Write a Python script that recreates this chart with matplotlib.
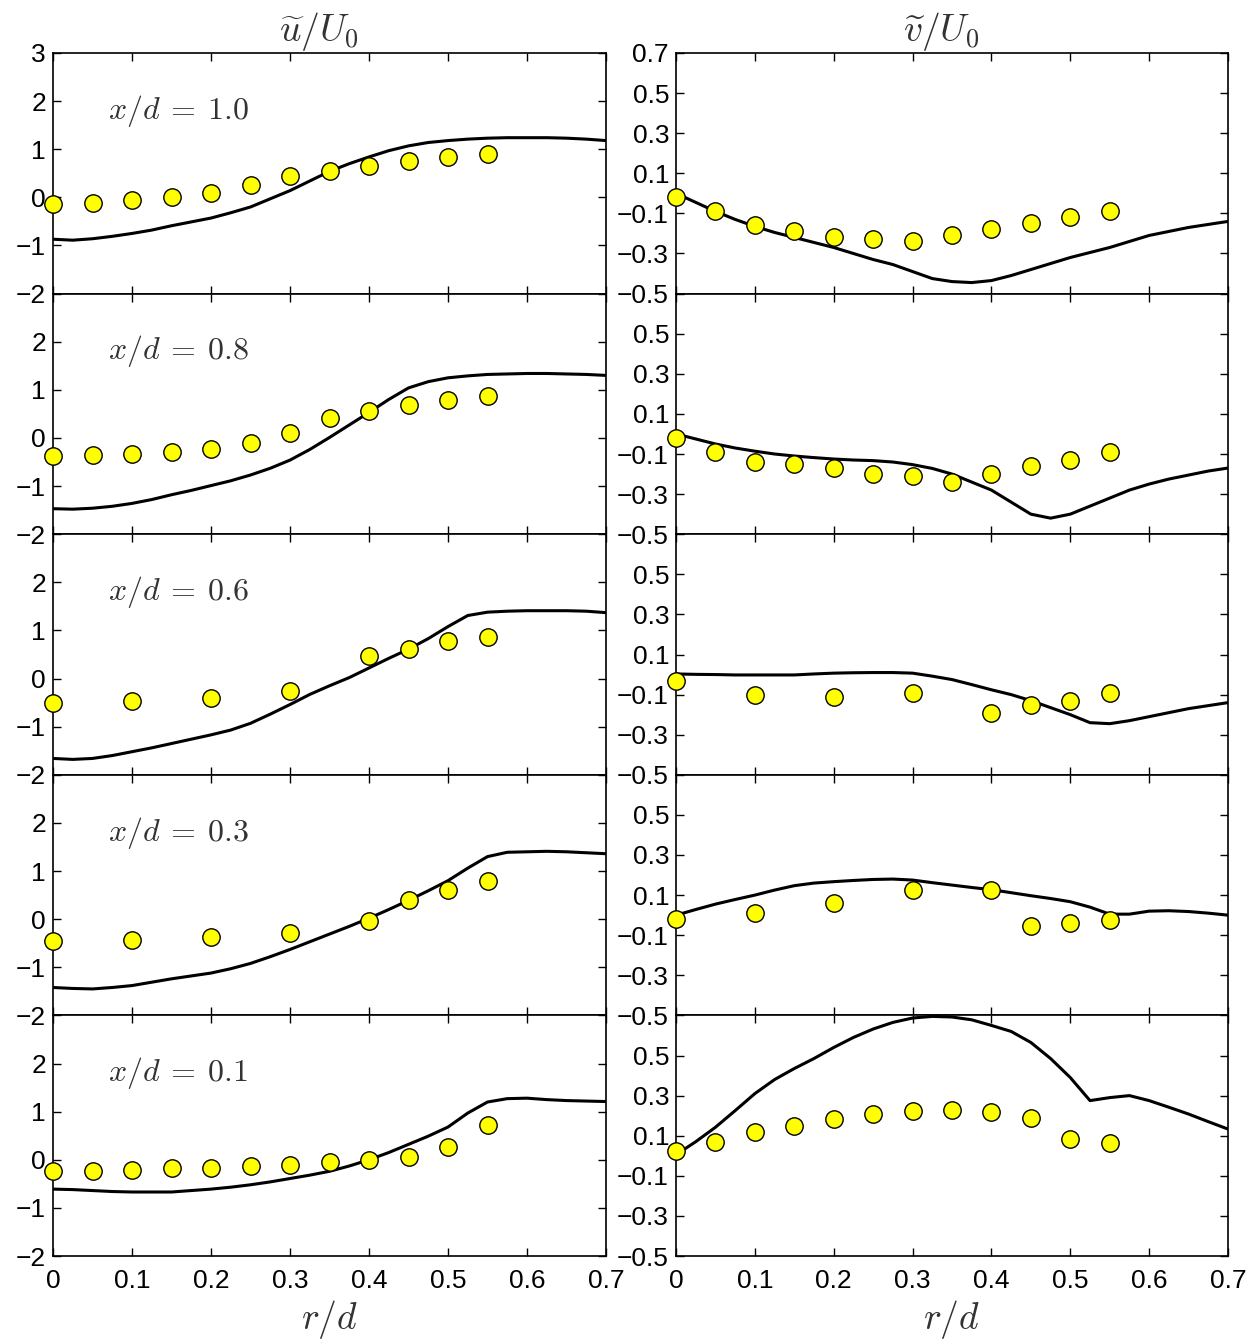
import numpy as np
import matplotlib.pyplot as plt

plt.rcParams['font.family'] = ['Liberation Sans', 'DejaVu Sans']
plt.rcParams['mathtext.fontset'] = 'cm'

# stations, top to bottom
stations = ['1.0', '0.8', '0.6', '0.3', '0.1']

# simulation profiles on a common radial grid
r_sim = np.arange(29) * 0.025

u_sim = [
    [-0.87, -0.89, -0.86, -0.81, -0.75, -0.68, -0.59, -0.51, -0.43, -0.32, -0.20, -0.03, 0.14, 0.34, 0.54,
     0.70, 0.84, 0.97, 1.07, 1.14, 1.18, 1.21, 1.23, 1.24, 1.24, 1.24, 1.23, 1.21, 1.18],
    [-1.47, -1.48, -1.46, -1.42, -1.36, -1.28, -1.18, -1.09, -0.99, -0.89, -0.77, -0.63, -0.46, -0.24, 0.01,
     0.27, 0.53, 0.80, 1.04, 1.17, 1.25, 1.29, 1.32, 1.33, 1.34, 1.34, 1.33, 1.32, 1.30],
    [-1.66, -1.68, -1.66, -1.60, -1.52, -1.44, -1.35, -1.26, -1.17, -1.07, -0.93, -0.74, -0.54, -0.33, -0.15,
     0.02, 0.22, 0.42, 0.61, 0.83, 1.08, 1.31, 1.38, 1.40, 1.41, 1.41, 1.41, 1.40, 1.37],
    [-1.42, -1.44, -1.45, -1.42, -1.38, -1.31, -1.24, -1.18, -1.12, -1.03, -0.92, -0.78, -0.63, -0.47, -0.31,
     -0.15, 0.02, 0.20, 0.39, 0.59, 0.80, 1.06, 1.30, 1.39, 1.40, 1.41, 1.40, 1.38, 1.36],
    [-0.61, -0.62, -0.64, -0.66, -0.67, -0.67, -0.67, -0.64, -0.61, -0.57, -0.52, -0.46, -0.39, -0.32, -0.24,
     -0.13, 0.00, 0.15, 0.32, 0.49, 0.68, 0.97, 1.20, 1.27, 1.28, 1.25, 1.23, 1.22, 1.21],
]

v_sim = [
    [0.0, -0.045, -0.09, -0.13, -0.165, -0.195, -0.22, -0.245, -0.27, -0.30, -0.33, -0.355, -0.39, -0.425, -0.44,
     -0.445, -0.435, -0.41, -0.38, -0.35, -0.32, -0.295, -0.27, -0.24, -0.21, -0.19, -0.17, -0.155, -0.14],
    [0.0, -0.025, -0.05, -0.07, -0.086, -0.10, -0.11, -0.118, -0.125, -0.13, -0.133, -0.14, -0.153, -0.172, -0.20,
     -0.24, -0.28, -0.34, -0.40, -0.42, -0.40, -0.36, -0.32, -0.28, -0.25, -0.225, -0.205, -0.185, -0.17],
    [0.003, 0.001, 0.0, -0.002, -0.002, -0.002, -0.002, 0.003, 0.007, 0.009, 0.01, 0.01, 0.007, -0.008, -0.025,
     -0.05, -0.076, -0.10, -0.13, -0.165, -0.20, -0.24, -0.245, -0.23, -0.21, -0.19, -0.17, -0.155, -0.14],
    [0.0, 0.028, 0.055, 0.078, 0.10, 0.125, 0.147, 0.16, 0.167, 0.173, 0.178, 0.18, 0.175, 0.162, 0.15,
     0.138, 0.127, 0.112, 0.097, 0.083, 0.067, 0.04, 0.005, 0.005, 0.02, 0.022, 0.018, 0.01, 0.0],
    [0.005, 0.07, 0.142, 0.225, 0.31, 0.38, 0.435, 0.485, 0.54, 0.59, 0.632, 0.665, 0.687, 0.695, 0.692,
     0.678, 0.65, 0.62, 0.565, 0.485, 0.39, 0.275, 0.29, 0.30, 0.275, 0.242, 0.208, 0.17, 0.133],
]

# measurements
r_full = [0, 0.05, 0.1, 0.15, 0.2, 0.25, 0.3, 0.35, 0.4, 0.45, 0.5, 0.55]
r_part = [0, 0.1, 0.2, 0.3, 0.4, 0.45, 0.5, 0.55]
r_exp = [r_full, r_full, r_part, r_part, r_full]

u_exp = [
    [-0.13, -0.12, -0.06, 0.0, 0.10, 0.26, 0.44, 0.55, 0.66, 0.76, 0.83, 0.90],
    [-0.38, -0.36, -0.33, -0.30, -0.23, -0.10, 0.10, 0.42, 0.57, 0.69, 0.79, 0.88],
    [-0.51, -0.47, -0.40, -0.26, 0.46, 0.62, 0.78, 0.87],
    [-0.46, -0.44, -0.38, -0.28, -0.03, 0.39, 0.60, 0.80],
    [-0.24, -0.24, -0.22, -0.18, -0.17, -0.12, -0.10, -0.05, 0.0, 0.06, 0.26, 0.72],
]

v_exp = [
    [-0.02, -0.09, -0.16, -0.19, -0.22, -0.23, -0.24, -0.21, -0.18, -0.15, -0.12, -0.09],
    [-0.02, -0.09, -0.14, -0.15, -0.17, -0.20, -0.21, -0.24, -0.20, -0.16, -0.13, -0.09],
    [-0.03, -0.10, -0.11, -0.09, -0.19, -0.15, -0.13, -0.09],
    [-0.02, 0.012, 0.062, 0.125, 0.125, -0.055, -0.04, -0.023],
    [0.022, 0.07, 0.118, 0.15, 0.183, 0.206, 0.225, 0.226, 0.216, 0.19, 0.082, 0.065],
]

u_ticks = [-2, -1, 0, 1, 2, 3]
v_ticks = [-0.5, -0.3, -0.1, 0.1, 0.3, 0.5, 0.7]
r_ticks = [0, 0.1, 0.2, 0.3, 0.4, 0.5, 0.6, 0.7]

fig = plt.figure(figsize=(12.6, 13.42), dpi=100)

W, H = 1260.0, 1342.0
top, bottom = 53.0, 1256.0
row_h = (bottom - top) / 5
cols = [(53.0, 606.0), (676.0, 1228.0)]
mathcol = '#333333'


def fmt_int(t):
    return ('%d' % t).replace('-', '\u2212')


def fmt_dec(t):
    return ('%.1f' % t).replace('-', '\u2212')


def style_axes(ax, ticks, ylim, fmt, first, last):
    ax.set_xlim(0, 0.7)
    ax.set_ylim(*ylim)
    ax.set_xticks(r_ticks)
    ax.set_yticks(ticks)
    labels = [fmt(t) for t in ticks]
    if not first:
        labels[-1] = ''
    ax.set_yticklabels(labels)
    if last:
        ax.set_xticklabels(['0'] + ['%.1f' % t for t in r_ticks[1:]])
    else:
        ax.set_xticklabels([])
    ax.tick_params(direction='in', top=True, right=True, length=6, width=1,
                   labelsize=19, pad=5)
    ax.tick_params(axis='x', pad=9)
    for s in ax.spines.values():
        s.set_linewidth(1.2)


for i in range(5):
    y0 = 1 - (top + (i + 1) * row_h) / H
    for j, (xa, xb) in enumerate(cols):
        ax = fig.add_axes([xa / W, y0, (xb - xa) / W, row_h / H])
        if j == 0:
            sim, exp = u_sim[i], u_exp[i]
            style_axes(ax, u_ticks, (-2, 3), fmt_int, i == 0, i == 4)
            ax.text(0.07, 1.8, r'$x/d\:=\:%s$' % stations[i], fontsize=23,
                    color=mathcol, va='center', ha='left')
        else:
            sim, exp = v_sim[i], v_exp[i]
            style_axes(ax, v_ticks, (-0.5, 0.7), fmt_dec, i == 0, i == 4)
        ax.plot(r_sim, sim, color='black', lw=2.2, zorder=2)
        ax.plot(r_exp[i], exp, 'o', ms=12.5, mfc='#ffff00', mec='black',
                mew=1.0, clip_on=False, zorder=3)
        if i == 0:
            t = r'$\widetilde{u}/U_0$' if j == 0 else r'$\widetilde{v}/U_0$'
            ax.set_title(t, fontsize=27, color=mathcol, pad=3, x=0.48)
        if i == 4:
            ax.set_xlabel(r'$r/d$', fontsize=27, color=mathcol, labelpad=4)

fig.savefig('out.png', dpi=100)
